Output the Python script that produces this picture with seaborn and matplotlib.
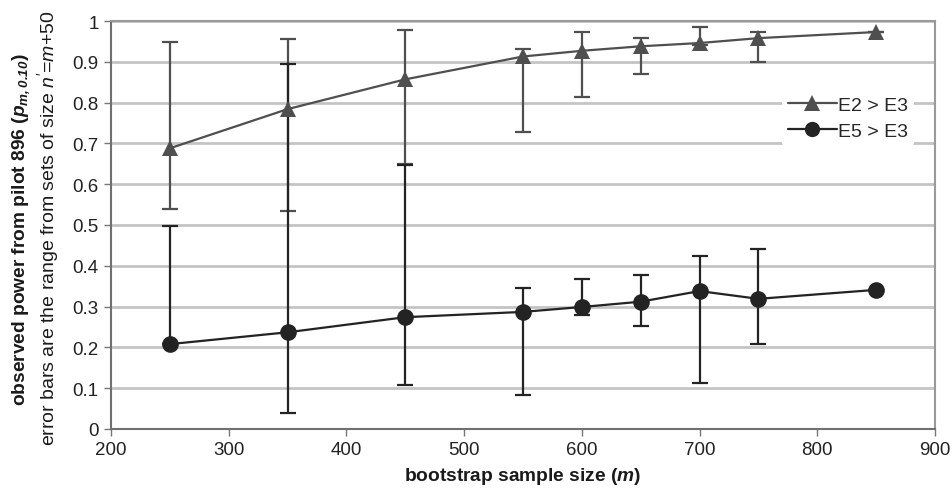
import numpy as np
import pandas as pd
import matplotlib
matplotlib.use("Agg")
import matplotlib.pyplot as plt
import seaborn as sns

# bootstrap sample sizes
m_e2 = [250, 350, 450, 550, 600, 650, 700, 750, 850]
m_e5 = [250, 350, 450, 550, 600, 650, 700, 750, 850]

# observed power and min/max range over sets of size n' = m + 50
e2_power = [0.688, 0.784, 0.857, 0.913, 0.927, 0.938, 0.946, 0.958, 0.973]
e2_low = [0.539, 0.534, 0.650, 0.728, 0.814, 0.870, 0.940, 0.899, 0.973]
e2_high = [0.949, 0.956, 0.977, 0.932, 0.973, 0.958, 0.986, 0.972, 0.973]

e5_power = [0.208, 0.237, 0.274, 0.287, 0.299, 0.312, 0.338, 0.319, 0.341]
e5_low = [0.208, 0.040, 0.108, 0.083, 0.280, 0.253, 0.112, 0.208, 0.341]
e5_high = [0.498, 0.895, 0.648, 0.346, 0.367, 0.377, 0.425, 0.441, 0.341]

series_names = ["E2 > E3", "E5 > E3"]
x_ticks = [200, 300, 400, 500, 600, 700, 800, 900]
y_ticks = [0, 0.1, 0.2, 0.3, 0.4, 0.5, 0.6, 0.7, 0.8, 0.9, 1]

sns.set_theme(style="white")
plt.rcParams["font.family"] = ["Liberation Sans", "DejaVu Sans"]
plt.rcParams["mathtext.fontset"] = "custom"
plt.rcParams["mathtext.rm"] = "Liberation Sans"
plt.rcParams["mathtext.it"] = "Liberation Sans:italic"
plt.rcParams["mathtext.bf"] = "Liberation Sans:bold"
plt.rcParams["mathtext.bfit"] = "Liberation Sans:bold:italic"

df = pd.concat([
    pd.DataFrame({"m": m_e2, "power": e2_power, "series": series_names[0]}),
    pd.DataFrame({"m": m_e5, "power": e5_power, "series": series_names[1]}),
])

c_e2 = "#4f4f4f"
c_e5 = "#232323"

fig = plt.figure(figsize=(9.53, 4.89), dpi=100)
ax = fig.add_axes([0.1165, 0.1207, 0.8645, 0.8343])

# range bars
for xs, lo, hi, mid, col in [
    (m_e2, e2_low, e2_high, e2_power, c_e2),
    (m_e5, e5_low, e5_high, e5_power, c_e5),
]:
    mid = np.array(mid)
    yerr = np.vstack([mid - np.array(lo), np.array(hi) - mid])
    ax.errorbar(xs, mid, yerr=yerr, fmt="none", ecolor=col,
                elinewidth=1.6, capsize=6, capthick=1.6, zorder=3)

sns.lineplot(data=df, x="m", y="power", hue="series", style="series",
             markers={"E2 > E3": "^", "E5 > E3": "o"}, dashes=False,
             palette={"E2 > E3": c_e2, "E5 > E3": c_e5},
             markersize=12, linewidth=1.6, markeredgewidth=0,
             ax=ax, zorder=4)

ax.set_xlim(200, 900)
ax.set_ylim(0, 1)
ax.set_xticks(x_ticks)
ax.set_yticks(y_ticks)
ax.set_yticklabels([f"{v:g}" for v in y_ticks])
ax.tick_params(axis="both", labelsize=13.5, length=5, width=1,
               direction="out", left=True, bottom=True, pad=4,
               colors="#777777", labelcolor="#222222")

ax.yaxis.grid(True, color="#c4c4c4", linewidth=2)
ax.xaxis.grid(False)
ax.set_axisbelow(True)

for side in ["top", "right"]:
    ax.spines[side].set_color("#999999")
    ax.spines[side].set_linewidth(1.5)
for side in ["left", "bottom"]:
    ax.spines[side].set_color("#707070")
    ax.spines[side].set_linewidth(1.5)

ax.set_xlabel(r"bootstrap sample size ($\mathbfit{m}$)", fontsize=13.8,
              fontweight="bold", color="#1a1a1a", labelpad=5)
ax.set_ylabel("")

fig.text(0.022, 0.53,
         r"observed power from pilot 896 ($\mathbfit{p}_{\mathbfit{m,0.10}}$)",
         rotation=90, ha="center", va="center", fontsize=13.8,
         fontweight="bold", color="#1a1a1a")
fig.text(0.050, 0.534,
         r"error bars are the range from sets of size $\mathit{n'}$=$\mathit{m}$+50",
         rotation=90, ha="center", va="center", fontsize=14,
         color="#1a1a1a")

leg = ax.legend(title=None, loc="center left", bbox_to_anchor=(0.803, 0.762),
                frameon=True, fontsize=14, handlelength=2.5,
                handletextpad=0.05, borderpad=0.3, labelspacing=0.45)
leg.get_frame().set_facecolor("white")
leg.get_frame().set_edgecolor("none")
leg.get_frame().set_alpha(1)
for h in leg.legend_handles:
    h.set_markersize(11)

fig.savefig("out.png", dpi=100)
